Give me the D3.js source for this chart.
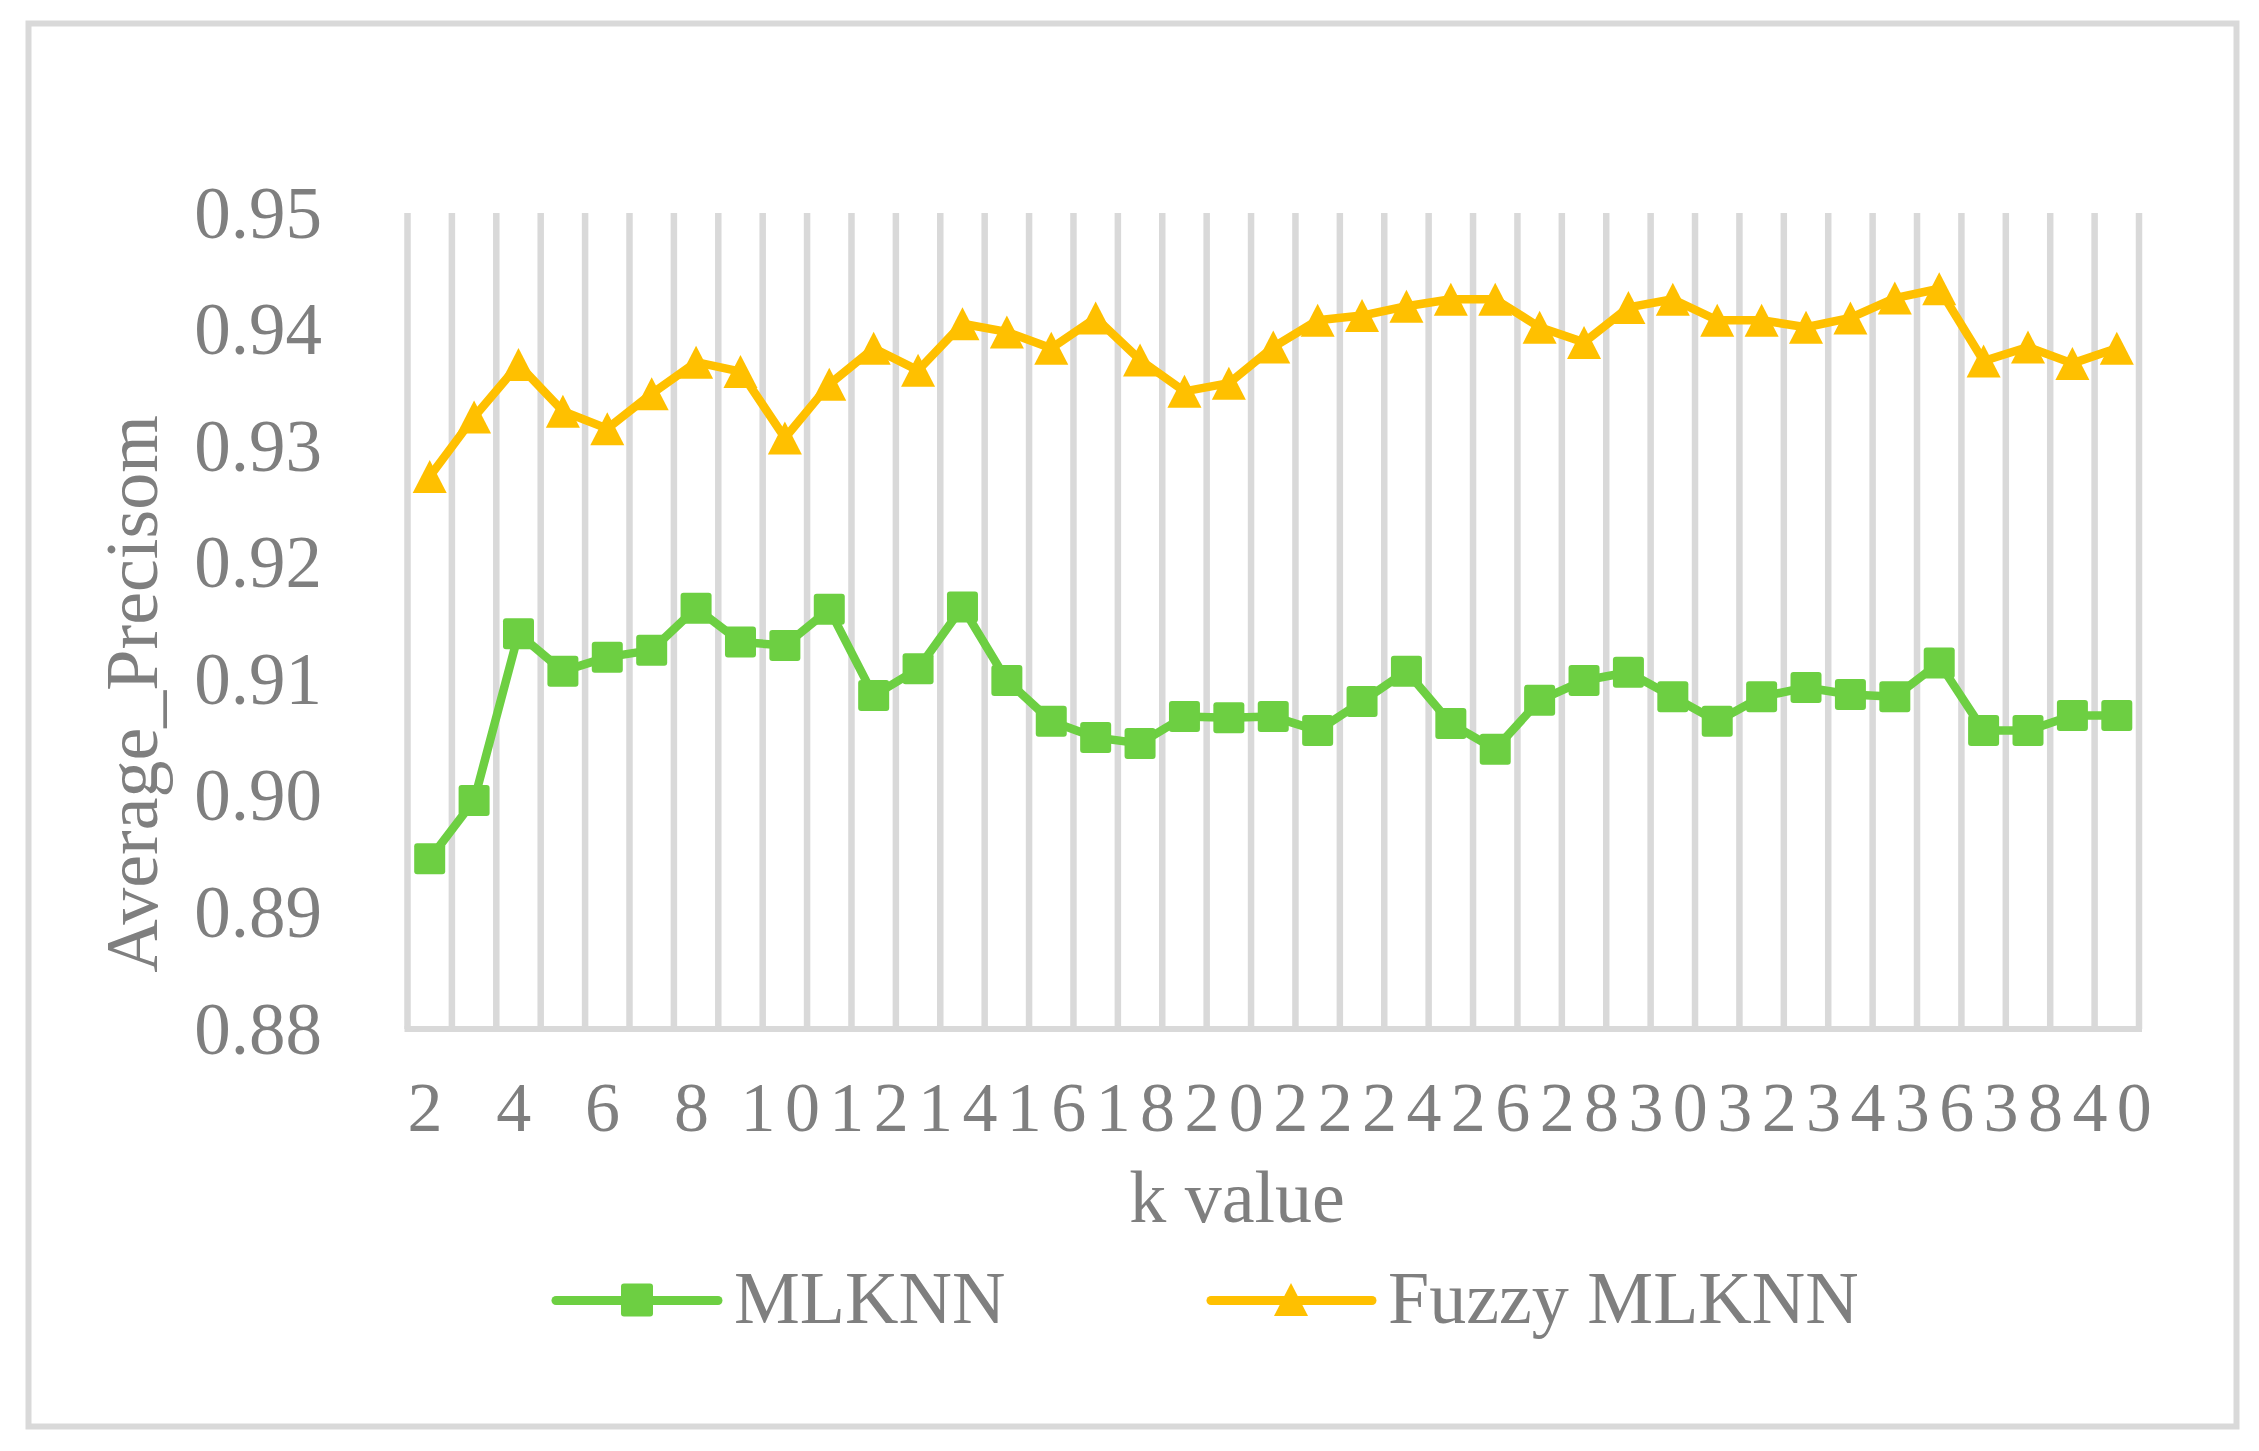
<!DOCTYPE html>
<html>
<head>
<meta charset="utf-8">
<script src="https://cdn.jsdelivr.net/npm/d3@7"></script>
<style>
  html, body { margin: 0; padding: 0; background: #ffffff; }
  svg { display: block; }
  text { font-family: "Liberation Serif", "Times New Roman", serif; fill: #7f7f7f; }
</style>
</head>
<body>
<svg id="chart" width="2259" height="1451"></svg>
<script>
// ---- data ----
const kValues = d3.range(2, 41);
const mlknn = [0.8946, 0.8996, 0.9139, 0.9107, 0.9119, 0.9125, 0.9161, 0.9132, 0.9129, 0.9160,
               0.9086, 0.9109, 0.9162, 0.9099, 0.9064, 0.9050, 0.9045, 0.9068, 0.9067, 0.9068,
               0.9056, 0.9081, 0.9107, 0.9062, 0.9040, 0.9082, 0.9099, 0.9106, 0.9085, 0.9064,
               0.9085, 0.9093, 0.9087, 0.9085, 0.9114, 0.9056, 0.9056, 0.9069, 0.9069];
const fuzzyMlknn = [0.9274, 0.9325, 0.9370, 0.9330, 0.9315, 0.9345, 0.9372, 0.9364, 0.9307, 0.9353,
                    0.9384, 0.9365, 0.9405, 0.9398, 0.9384, 0.9410, 0.9374, 0.9347, 0.9354, 0.9385,
                    0.9408, 0.9412, 0.9420, 0.9426, 0.9426, 0.9402, 0.9389, 0.9419, 0.9426, 0.9408,
                    0.9408, 0.9402, 0.9410, 0.9427, 0.9435, 0.9373, 0.9385, 0.9371, 0.9384];
const yTicks = [0.88, 0.89, 0.90, 0.91, 0.92, 0.93, 0.94, 0.95];
const xTickLabels = d3.range(2, 41, 2);
const seriesNames = ["MLKNN", "Fuzzy MLKNN"];
const yTitle = "Average_Precisom";
const xTitle = "k value";

// ---- styles ----
const GREEN = "#6dcf42";
const GOLD = "#ffc000";
const GRID = "#d9d9d9";
const TEXT = "#7f7f7f";
const FS = 73;

const svg = d3.select("#chart");

// outer chart border
svg.append("rect")
  .attr("x", 28.5).attr("y", 23.5).attr("width", 2208).attr("height", 1403)
  .attr("fill", "#ffffff").attr("stroke", GRID).attr("stroke-width", 6);

const x = d3.scaleBand().domain(kValues).range([407.5, 2139]).padding(0);
const y = d3.scaleLinear().domain([0.88, 0.95]).range([1029, 213]);
const cx = k => x(k) + x.bandwidth() / 2;

// vertical gridlines at category boundaries
const gridXs = kValues.map(k => x(k)).concat([x.range()[1]]);
svg.append("g").selectAll("line").data(gridXs).join("line")
  .attr("x1", d => d).attr("x2", d => d)
  .attr("y1", y(0.95)).attr("y2", y(0.88))
  .attr("stroke", GRID).attr("stroke-width", 6.5);

// category axis line
svg.append("line")
  .attr("x1", x.range()[0] - 3).attr("x2", x.range()[1] + 3)
  .attr("y1", y(0.88)).attr("y2", y(0.88))
  .attr("stroke", GRID).attr("stroke-width", 6);

// y axis labels
const yAxis = svg.append("g").attr("transform", "translate(322,0)")
  .call(d3.axisLeft(y).tickValues(yTicks).tickFormat(d3.format(".2f")).tickSize(0).tickPadding(0));
yAxis.select(".domain").remove();
yAxis.selectAll("text")
  .attr("font-size", FS).attr("font-family", "Liberation Serif, Times New Roman, serif")
  .attr("fill", TEXT).attr("dy", "0.33em");

// x axis labels (digits spread to one category width each, as in the original)
const XFS = 70;
const xAxis = svg.append("g").attr("transform", `translate(0,${y(0.88)})`)
  .call(d3.axisBottom(x).tickValues(xTickLabels).tickSize(0));
xAxis.select(".domain").remove();
xAxis.selectAll("text")
  .attr("font-size", XFS).attr("font-family", "Liberation Serif, Times New Roman, serif")
  .attr("fill", TEXT).attr("y", 102).attr("dy", 0)
  .attr("letter-spacing", x.bandwidth() - XFS * 0.5);

// axis titles
svg.append("text")
  .attr("transform", "translate(157,694) rotate(-90)")
  .attr("text-anchor", "middle").attr("font-size", 74)
  .text(yTitle);
svg.append("text")
  .attr("x", 1237).attr("y", 1222).attr("text-anchor", "middle").attr("font-size", 74)
  .text(xTitle);

// lines
const line = d3.line().x((d, i) => cx(kValues[i])).y(d => y(d));
svg.append("path").datum(mlknn)
  .attr("d", line).attr("fill", "none").attr("stroke", GREEN)
  .attr("stroke-width", 8.5).attr("stroke-linejoin", "round").attr("stroke-linecap", "round");
svg.append("path").datum(fuzzyMlknn)
  .attr("d", line).attr("fill", "none").attr("stroke", GOLD)
  .attr("stroke-width", 8.5).attr("stroke-linejoin", "round").attr("stroke-linecap", "round");

// markers
const SQ = 31;
svg.append("g").selectAll("rect").data(mlknn).join("rect")
  .attr("x", (d, i) => cx(kValues[i]) - SQ / 2)
  .attr("y", d => y(d) - SQ / 2)
  .attr("width", SQ).attr("height", SQ).attr("rx", 3)
  .attr("fill", GREEN);

const triPath = (px, py) => {
  const w = 34, h = 33;
  return `M${px},${py - h / 2}L${px + w / 2},${py + h / 2}L${px - w / 2},${py + h / 2}Z`;
};
svg.append("g").selectAll("path").data(fuzzyMlknn).join("path")
  .attr("d", (d, i) => triPath(cx(kValues[i]), y(d)))
  .attr("fill", GOLD);

// legend
const lg = svg.append("g");
lg.append("line").attr("x1", 556).attr("x2", 718).attr("y1", 1300.5).attr("y2", 1300.5)
  .attr("stroke", GREEN).attr("stroke-width", 9).attr("stroke-linecap", "round");
lg.append("rect").attr("x", 637 - 16).attr("y", 1300 - 16.5).attr("width", 32).attr("height", 33)
  .attr("rx", 3).attr("fill", GREEN);
lg.append("text").attr("x", 734).attr("y", 1323).attr("font-size", 74).text(seriesNames[0]);

lg.append("line").attr("x1", 1211).attr("x2", 1372).attr("y1", 1300.5).attr("y2", 1300.5)
  .attr("stroke", GOLD).attr("stroke-width", 9).attr("stroke-linecap", "round");
lg.append("path").attr("d", triPath(1291, 1299.5)).attr("fill", GOLD);
lg.append("text").attr("x", 1388).attr("y", 1323).attr("font-size", 74).text(seriesNames[1]);
</script>
</body>
</html>
